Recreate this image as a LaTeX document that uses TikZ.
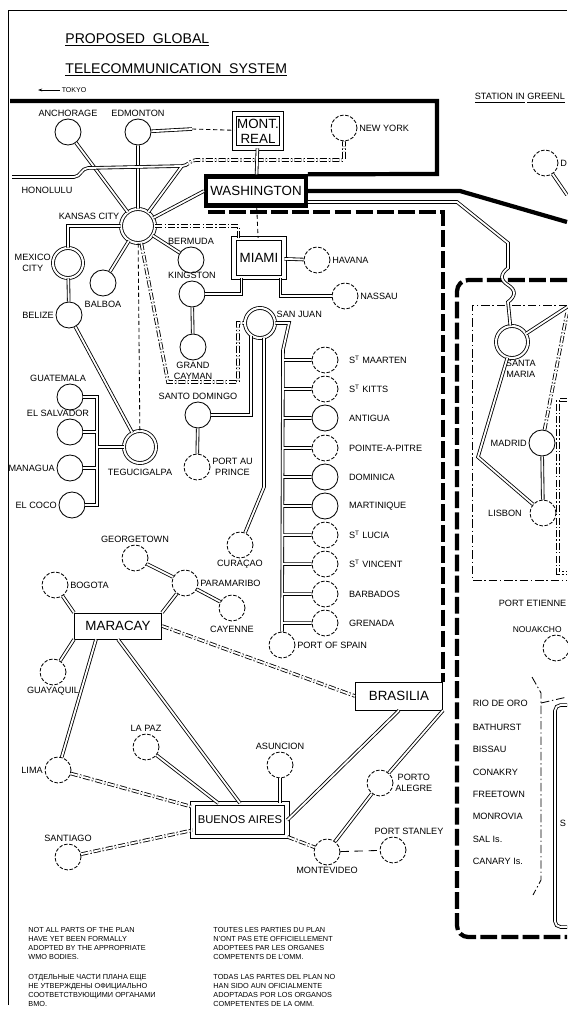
\documentclass[tikz,border=0pt]{standalone}
\usepackage{fontspec}
\setmainfont{Liberation Sans}
\usetikzlibrary{arrows.meta,calc}

\begin{document}
\begin{tikzpicture}[
  x=0.025cm, y=-0.025cm, line width=0.6pt,
  lbl/.style={font=\fontsize{6.5}{7.5}\selectfont, inner sep=1pt, align=center},
  stn/.style={draw, circle, minimum size=0.65cm, inner sep=0pt},
  pstn/.style={stn, dash pattern=on 2.5pt off 1.2pt},
  hub/.style={draw, circle, double, double distance=1.5pt, minimum size=0.8cm, inner sep=0pt},
  ctr/.style={draw, double, double distance=2.4pt, font=\fontsize{9.5}{10.5}\selectfont, inner sep=1pt, align=center},
  box/.style={draw, font=\fontsize{9.5}{10.5}\selectfont, inner sep=1pt},
  link/.style={double, double distance=1.3pt, line width=0.6pt},
  plink/.style={link, dash pattern=on 5pt off 1.5pt on 1pt off 1.5pt},
  aux/.style={line width=0.6pt, dash pattern=on 6pt off 2pt on 1pt off 2pt},
  region/.style={line width=3pt},
  pregion/.style={line width=3pt, dash pattern=on 12pt off 3pt},
  title/.style={font=\fontsize{10}{12}\selectfont, inner sep=0pt, anchor=base west},
  note/.style={font=\fontsize{5.2}{6.4}\selectfont, align=left, anchor=north west, inner sep=0pt}
]
\useasboundingbox (0,0) rectangle (567,1013);
\draw (8,1005) -- (8,10) -- (567,10);

% Titel
\node[title] (title1) at (65,43) {\underline{PROPOSED\ \ GLOBAL}};
\node[title] (title2) at (65,73) {\underline{TELECOMMUNICATION\ \ SYSTEM}};
\node[lbl, font=\fontsize{5}{6}\selectfont] (tokyo) at (74,90) {TOKYO};
\coordinate (tk) at (38,90);
\draw[-{Stealth[length=3pt,width=2pt]}] (tokyo.west) -- (tk);
\node[lbl, anchor=west] (greenland) at (473,98) {\underline{STATION IN}\ \underline{GREENL}};

% Nordamerika
\node[stn, label={[lbl]above:ANCHORAGE}] (anchorage) at (68,132) {};
\node[stn, label={[lbl]above:EDMONTON}] (edmonton) at (138,132) {};
\node[ctr, minimum width=1.17cm, minimum height=0.85cm] (montreal) at (258,131) {MONT.\\REAL};
\node[pstn, label={[lbl]right:NEW YORK}] (newyork) at (344,128) {};
\node[box, line width=3pt, inner xsep=3pt, minimum width=2.4cm, minimum height=0.73cm] (washington) at (256,191) {WASHINGTON};
\node[hub, minimum size=0.85cm, label={[lbl]165:KANSAS CITY}] (kansas) at (138,226) {};
\node[lbl] (honolulu) at (47,190) {HONOLULU};
\coordinate (hnl) at (12,177);
\coordinate (j1) at (182,166);
\coordinate (e1) at (192,129);

% Mittelamerika und Karibik
\node[hub, minimum size=0.75cm, label={[lbl]left:MEXICO\\CITY}] (mexico) at (68,263) {};
\node[stn, label={[lbl, label distance=2pt]below:BALBOA}] (balboa) at (103,283) {};
\node[stn, label={[lbl]above:BERMUDA}] (bermuda) at (191,260) {};
\node[ctr, minimum width=1.25cm, minimum height=0.98cm] (miami) at (259,258) {MIAMI};
\node[stn, label={[lbl]above:KINGSTON}] (kingston) at (192,294) {};
\node[stn, label={[lbl]below:GRAND\\CAYMAN}] (cayman) at (193,347) {};
\node[pstn, label={[lbl]right:HAVANA}] (havana) at (317,260) {};
\node[pstn, label={[lbl]right:NASSAU}] (nassau) at (345,296) {};
\node[stn, label={[lbl]left:BELIZE}] (belize) at (69,315) {};
\node[stn, label={[lbl, xshift=-0.3cm]above:GUATEMALA}] (guatemala) at (70,397) {};
\node[stn, label={[lbl, xshift=-0.3cm]above:EL SALVADOR}] (salvador) at (70,432) {};
\node[stn, label={[lbl]left:MANAGUA}] (managua) at (70,468) {};
\node[stn, label={[lbl]left:EL COCO}] (elcoco) at (72,505) {};
\node[hub, label={[lbl, label distance=3pt]below:TEGUCIGALPA}] (tegucigalpa) at (140,447) {};
\node[hub, minimum size=0.75cm, label={[lbl]15:SAN JUAN}] (sanjuan) at (260,323) {};
\node[stn, label={[lbl]above:SANTO DOMINGO}] (sdomingo) at (198,415) {};
\node[pstn, label={[lbl]right:PORT AU\\PRINCE}] (portauprince) at (197,467) {};
\node[pstn, label={[lbl]below:CURAÇAO}] (curacao) at (240,545) {};
\coordinate (bus) at (283,0);

% Kleine Antillen
\node[pstn, label={[lbl, label distance=0.22cm]right:S\textsuperscript{T} MAARTEN}] (stmaarten) at (325,360) {};
\node[pstn, label={[lbl, label distance=0.22cm]right:S\textsuperscript{T} KITTS}] (stkitts) at (325,389) {};
\node[stn, label={[lbl, label distance=0.22cm]right:ANTIGUA}] (antigua) at (325,418) {};
\node[pstn, label={[lbl, label distance=0.22cm]right:POINTE-A-PITRE}] (pointeapitre) at (325,448) {};
\node[stn, label={[lbl, label distance=0.22cm]right:DOMINICA}] (dominica) at (325,477) {};
\node[stn, label={[lbl, label distance=0.22cm]right:MARTINIQUE}] (martinique) at (325,506) {};
\node[pstn, label={[lbl, label distance=0.22cm]right:S\textsuperscript{T} LUCIA}] (stlucia) at (325,535) {};
\node[pstn, label={[lbl, label distance=0.22cm]right:S\textsuperscript{T} VINCENT}] (stvincent) at (325,564) {};
\node[pstn, label={[lbl, label distance=0.22cm]right:BARBADOS}] (barbados) at (325,594) {};
\node[pstn, label={[lbl, label distance=0.22cm]right:GRENADA}] (grenada) at (325,623) {};
\node[pstn, label={[lbl]right:PORT OF SPAIN}] (portofspain) at (282,645) {};

% Suedamerika
\node[pstn, label={[lbl]above:GEORGETOWN}] (georgetown) at (135,558) {};
\node[pstn, label={[lbl]right:PARAMARIBO}] (paramaribo) at (185,583) {};
\node[pstn, label={[lbl, label distance=2pt]below:CAYENNE}] (cayenne) at (232,608) {};
\node[pstn, label={[lbl]right:BOGOTA}] (bogota) at (55,585) {};
\node[box, minimum width=2.18cm, minimum height=0.65cm] (maracay) at (118,626) {MARACAY};
\node[box, minimum width=2.18cm, minimum height=0.7cm] (brasilia) at (399,696) {BRASILIA};
\node[pstn, label={[lbl]below:GUAYAQUIL}] (guayaquil) at (53,672) {};
\node[pstn, label={[lbl]left:LIMA}] (lima) at (58,770) {};
\node[pstn, label={[lbl]above:LA PAZ}] (lapaz) at (146,747) {};
\node[pstn, label={[lbl]above:ASUNCION}] (asuncion) at (280,765) {};
\node[ctr, font=\fontsize{8}{10}\selectfont, minimum width=2.35cm, minimum height=0.82cm] (buenosaires) at (240,820) {BUENOS AIRES};
\node[pstn, label={[lbl]above:SANTIAGO}] (santiago) at (68,857) {};
\node[pstn, label={[lbl]right:PORTO\\ALEGRE}] (portoalegre) at (380,783) {};
\node[pstn, label={[lbl]below:MONTEVIDEO}] (montevideo) at (327,852) {};
\node[pstn, label={[lbl, xshift=0.4cm]above:PORT STANLEY}] (portstanley) at (393,850) {};

% Atlantik und Afrika
\node[pstn, label={[lbl]right:D}] (dstation) at (545,163) {};
\coordinate (deast) at (567,195);
\node[hub, label={[lbl, xshift=0.22cm]below:SANTA\\MARIA}] (santamaria) at (512,342) {};
\node[stn, label={[lbl]left:MADRID}] (madrid) at (542,443) {};
\node[pstn, label={[lbl, label distance=0.15cm]left:LISBON}] (lisbon) at (543,513) {};
\coordinate (smeast) at (567,307);
\coordinate (mdeast) at (567,313);
\node[lbl, anchor=west] (portetienne) at (497,603) {PORT ETIENNE};
\node[lbl, anchor=west, font=\fontsize{6}{7}\selectfont] (nouaklbl) at (511,630) {NOUAKCHO};
\node[pstn] (nouakchott) at (556,648) {};
\node[lbl, anchor=west] (riodeoro) at (471,703) {RIO DE ORO};
\node[lbl, anchor=west] (bathurst) at (471,727) {BATHURST};
\node[lbl, anchor=west] (bissau) at (471,749) {BISSAU};
\node[lbl, anchor=west] (conakry) at (471,772) {CONAKRY};
\node[lbl, anchor=west] (freetown) at (471,794) {FREETOWN};
\node[lbl, anchor=west] (monrovia) at (471,816) {MONROVIA};
\node[lbl, anchor=west] (sal) at (471,839) {SAL Is.};
\node[lbl, anchor=west] (canary) at (471,861) {CANARY Is.};
\node[lbl, anchor=west] (senegal) at (558,823) {S};

% Regionen
\draw[region] (10,101) -- (437,101) -- (437,174) -- (washington.north east);
\draw[region] (washington.east) -- (460,191) -- (567,222);
\draw[pregion] ($(washington.south west)+(4,4)$) -| (brasilia.north east);
\draw[pregion, rounded corners=8pt] (567,280) -- (457,280) -- (457,937) -- (567,937);
\draw[aux] (567,305) -- (472,305) -- (472,580) -- (567,580);
\draw[plink] (567,400) -- (558,400) -- (558,573) -- (567,573);
\draw[link, rounded corners=4pt] (567,705) -- (555,705) -- (555,927) -- (567,927);
\draw[aux] (532,677) -- (541,693) -- (541,880) -- (533,895);
\draw[aux] (541,703) -- (567,697);

% Verbindungen Nordamerika
\draw[link] (anchorage) -- (kansas) (edmonton) -- (kansas) (kansas) -- (washington.west);
\draw[link] (hnl) -- (74,177) to[out=0,in=180] (88,168) -- (j1) -- (kansas);
\draw[plink] (j1) to[out=0,in=180] (196,160) -| (newyork);
\draw[link] (edmonton) -- (e1);
\draw[densely dashed] (e1) -- (montreal);
\draw[link] (montreal) -- (washington);
\draw[densely dashed] (washington) -- (miami);

% Verbindungen Mittelamerika
\draw[link] (kansas) -| (mexico) (mexico) -- (belize) (belize) -- (tegucigalpa) (kansas) -- (balboa) (kansas) -- (bermuda);
\draw[plink] (kansas) -| ($(miami.north west)+(5,0)$);
\draw[densely dashed] (kansas) -- (tegucigalpa);
\draw[plink] (kansas) -- (168,382) -- (238,382) |- (sanjuan);
\draw[link] (miami) -- (havana);
\draw[link] ($(miami.south east)+(-4,0)$) |- (nassau);
\draw[link] (kingston) -| ($(miami.south west)+(8,0)$);
\draw[link] (kingston) -- (cayman);
\draw[link] (guatemala) -| (97,505) -- (elcoco) (salvador) -- (97,432) (managua) -- (97,468) (97,447) -- (tegucigalpa);
\draw[link] (sanjuan.235) |- (sdomingo);
\draw[link] (sdomingo) -- (portauprince);
\draw[link] (sanjuan.-75) -- (264,487) -- (curacao);
\draw[link] (sanjuan) -- (289,323) -- (283,350) -- (portofspain)
  (bus |- stmaarten) -- (stmaarten) (bus |- stkitts) -- (stkitts)
  (bus |- antigua) -- (antigua) (bus |- pointeapitre) -- (pointeapitre)
  (bus |- dominica) -- (dominica) (bus |- martinique) -- (martinique)
  (bus |- stlucia) -- (stlucia) (bus |- stvincent) -- (stvincent)
  (bus |- barbados) -- (barbados) (bus |- grenada) -- (grenada);

% Verbindungen Suedamerika
\draw[link] (georgetown) -- (paramaribo) (paramaribo) -- (cayenne);
\draw[link] (maracay.north east) -- (paramaribo) (maracay.north west) -- (bogota) (maracay.south west) -- (guayaquil);
\draw[link] ($(maracay.south)+(-22,0)$) -- (lima) (maracay.south) -- (buenosaires.north);
\draw[plink] (maracay.east) -- (brasilia.west);
\draw[plink] (lima) -- (buenosaires);
\draw[link] (lapaz) -- (buenosaires);
\draw[plink] (santiago) -- (buenosaires);
\draw[link] (asuncion) -- (asuncion |- buenosaires.north);
\draw[link] (buenosaires.east) -- (brasilia.south);
\draw[link] (brasilia.south east) -- (portoalegre);
\draw[link] (portoalegre) -- (montevideo);
\draw[plink] (buenosaires.south east) -- (montevideo);
\draw[dash pattern=on 6pt off 4pt] (montevideo) -- (portstanley);

% Verbindungen Atlantik
\draw[link] ($(washington.east)+(0,11)$) -- (457,202) -- (508,243) -- (508,268) .. controls (500,274) and (500,280) .. (508,285) .. controls (516,290) and (516,296) .. (508,302) -- (santamaria);
\draw[link] (dstation) -- (deast);
\draw[link] (santamaria) -- (527,333) -- (smeast);
\draw[link] (santamaria) -- (478,457) -- (lisbon);
\draw[link] (madrid) -- (lisbon);
\draw[plink] (madrid) -- (mdeast);

% Hinweise
\node[note] (noteen) at (28,927) {NOT ALL PARTS OF THE PLAN\\HAVE YET BEEN FORMALLY\\ADOPTED BY THE APPROPRIATE\\WMO BODIES.};
\node[note] (noteru) at (28,974) {ОТДЕЛЬНЫЕ ЧАСТИ ПЛАНА ЕЩЕ\\НЕ УТВЕРЖДЕНЫ ОФИЦИАЛЬНО\\СООТВЕТСТВУЮЩИМИ ОРГАНАМИ\\ВМО.};
\node[note] (notefr) at (213,927) {TOUTES LES PARTIES DU PLAN\\N'ONT PAS ETE OFFICIELLEMENT\\ADOPTEES PAR LES ORGANES\\COMPETENTS DE L'OMM.};
\node[note] (notees) at (213,974) {TODAS LAS PARTES DEL PLAN NO\\HAN SIDO AUN OFICIALMENTE\\ADOPTADAS POR LOS ORGANOS\\COMPETENTES DE LA OMM.};
\end{tikzpicture}
\end{document}
